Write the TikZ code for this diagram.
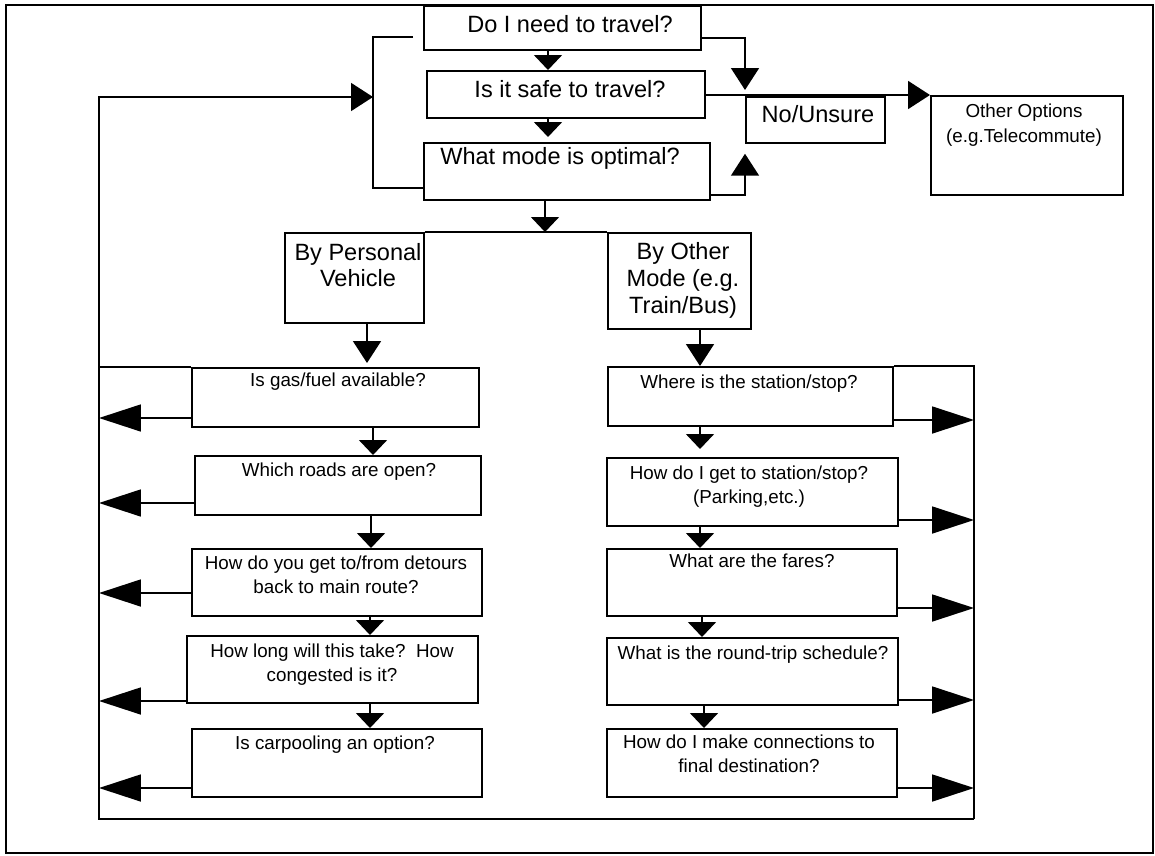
\documentclass[tikz,border=0pt]{standalone}
\usepackage{fontspec}
\setmainfont{Liberation Sans}
\usetikzlibrary{arrows.meta, positioning, calc}

\begin{document}
\begin{tikzpicture}[x=0.02cm, y=-0.02cm, line width=1pt,
    box/.style 2 args={draw, anchor=north west, inner sep=0pt,
                       minimum width=#1, minimum height=#2},
    qbig/.style={font=\fontsize{13.4}{15}\selectfont, align=center,
                 inner sep=0pt, anchor=north},
    qsmall/.style={font=\fontsize{10.7}{13.7}\selectfont, align=center,
                   inner sep=0pt, anchor=north},
    downarr/.style={-{Triangle[length=0.3cm, width=0.56cm]}},
    looparr/.style={-{Triangle[length=0.44cm, width=0.56cm]}},
    sidearr/.style={-{Triangle[length=0.84cm, width=0.54cm]}}]
  \useasboundingbox (0,0) rectangle (1155,855);
  \draw (6,5) rectangle (1153,853);

  % Question stack
  \node[box={5.54cm}{0.88cm}] (need) at (423,5) {};
  \node[box={5.56cm}{0.94cm}] (safe) at (426,70) {};
  \node[box={5.72cm}{1.14cm}] (mode) at (423,142) {};
  \node[box={2.78cm}{0.92cm}] (unsure) at (745,96) {};
  \node[box={3.84cm}{1.98cm}] (opts) at (930,95) {};
  \node[qbig] (needT) at (570,15) {Do I need to travel?};
  \node[qbig] (safeT) at (570,80) {Is it safe to travel?};
  \node[qbig] (modeT) at (560,147) {What mode is optimal?};
  \node[qbig] (unsureT) at (818,105) {No/Unsure};
  \node[qsmall, font=\fontsize{10.7}{14.2}\selectfont] (optsT) at (1024,103)
    {Other Options\\(e.g.Telecommute)};

  % Mode choice
  \node[box={2.78cm}{1.80cm}] (pers) at (284,232) {};
  \node[box={2.86cm}{1.92cm}] (bymode) at (607,232) {};
  \node[qbig, font=\fontsize{13.4}{14.8}\selectfont] (persT) at (358,243)
    {By Personal\\Vehicle};
  \node[qbig, font=\fontsize{13.4}{15.2}\selectfont] (bymodeT) at (683,242)
    {By Other\\Mode (e.g.\\Train/Bus)};

  % Personal vehicle column
  \node[box={5.74cm}{1.18cm}] (gas) at (191,367) {};
  \node[box={5.72cm}{1.18cm}] (roads) at (194,455) {};
  \node[box={5.80cm}{1.34cm}] (detour) at (191,548) {};
  \node[box={5.82cm}{1.34cm}] (howlong) at (186,635) {};
  \node[box={5.80cm}{1.36cm}] (carpool) at (191,728) {};
  \node[qsmall] (gasT) at (338,372) {Is gas/fuel available?};
  \node[qsmall] (roadsT) at (339,462) {Which roads are open?};
  \node[qsmall] (detourT) at (336,555)
    {How do you get to/from detours\\back to main route?};
  \node[qsmall] (howlongT) at (332,643)
    {How long will this take?\ \ How\\congested is it?};
  \node[qsmall] (carpoolT) at (335,735) {Is carpooling an option?};

  % Other mode column
  \node[box={5.70cm}{1.18cm}] (station) at (607,366) {};
  \node[box={5.82cm}{1.36cm}] (getto) at (606,457) {};
  \node[box={5.80cm}{1.34cm}] (fares) at (606,548) {};
  \node[box={5.82cm}{1.34cm}] (sched) at (606,637) {};
  \node[box={5.80cm}{1.36cm}] (connect) at (606,728) {};
  \node[qsmall] (stationT) at (749,374) {Where is the station/stop?};
  \node[qsmall] (gettoT) at (749,465)
    {How do I get to station/stop?\\(Parking,etc.)};
  \node[qsmall] (faresT) at (752,553) {What are the fares?};
  \node[qsmall] (schedT) at (753,645) {What is the round-trip schedule?};
  \node[qsmall] (connectT) at (749,734)
    {How do I make connections to\\final destination?};

  % Stack arrows
  \draw[downarr] (need.south -| 548,0) -- (safe.north -| 548,0);
  \draw[downarr, shorten >=0.1cm] (safe.south -| 548,0) -- (mode.north -| 548,0);
  \draw[downarr] (mode.south -| 545,0) -- (pers.north east -| 545,0);
  \draw (pers.north east) -- (bymode.north west);

  % No/Unsure branch
  \draw[looparr, shorten >=0.12cm] (need.east |- 0,38) -| (unsure.north west);
  \draw[looparr] (safe.east |- opts.north west) -- (opts.north west);
  \draw[looparr, shorten >=0.2cm] (mode.east |- 0,195) -| (unsure.south west);

  % Bracket and feedback loop
  \coordinate (brkTop) at (413,37);
  \coordinate (brkTip) at (373,97);
  \coordinate (fl) at (99,819);
  \coordinate (fr) at (974,819);
  \draw (brkTop) -| (brkTip) |- (mode.west |- 0,188);
  \draw[looparr] (fr) -- (fl) |- (brkTip);
  \draw (fr) |- (station.north east);
  \draw (gas.north west) -- (gas.north west -| fl);

  % Column arrows
  \draw[looparr, shorten >=0.08cm] (pers.south -| 367,0) -- (gas.north -| 367,0);
  \draw[looparr] (bymode.south -| 700,0) -- (station.north -| 700,0);
  \draw[downarr] (gas.south -| 373,0) -- (roads.north -| 373,0);
  \draw[downarr] (roads.south -| 371,0) -- (detour.north -| 371,0);
  \draw[downarr] (detour.south -| 370,0) -- (howlong.north -| 370,0);
  \draw[downarr] (howlong.south -| 370,0) -- (carpool.north -| 370,0);
  \draw[downarr, shorten >=0.16cm] (station.south -| 700,0) -- (getto.north -| 700,0);
  \draw[downarr] (getto.south -| 700,0) -- (fares.north -| 700,0);
  \draw[downarr] (fares.south -| 702,0) -- (sched.north -| 702,0);
  \draw[downarr] (sched.south -| 704,0) -- (connect.north -| 704,0);

  % Exits to the loop
  \draw[sidearr] (gas.west |- 0,418) -- (fl |- 0,418);
  \draw[sidearr] (roads.west |- 0,503) -- (fl |- 0,503);
  \draw[sidearr] (detour.west |- 0,593) -- (fl |- 0,593);
  \draw[sidearr] (howlong.west |- 0,701) -- (fl |- 0,701);
  \draw[sidearr] (carpool.west |- 0,788) -- (fl |- 0,788);
  \draw[sidearr] (station.east |- 0,420) -- (fr |- 0,420);
  \draw[sidearr] (getto.east |- 0,520) -- (fr |- 0,520);
  \draw[sidearr] (fares.east |- 0,608) -- (fr |- 0,608);
  \draw[sidearr] (sched.east |- 0,700) -- (fr |- 0,700);
  \draw[sidearr] (connect.east |- 0,788) -- (fr |- 0,788);
\end{tikzpicture}
\end{document}
